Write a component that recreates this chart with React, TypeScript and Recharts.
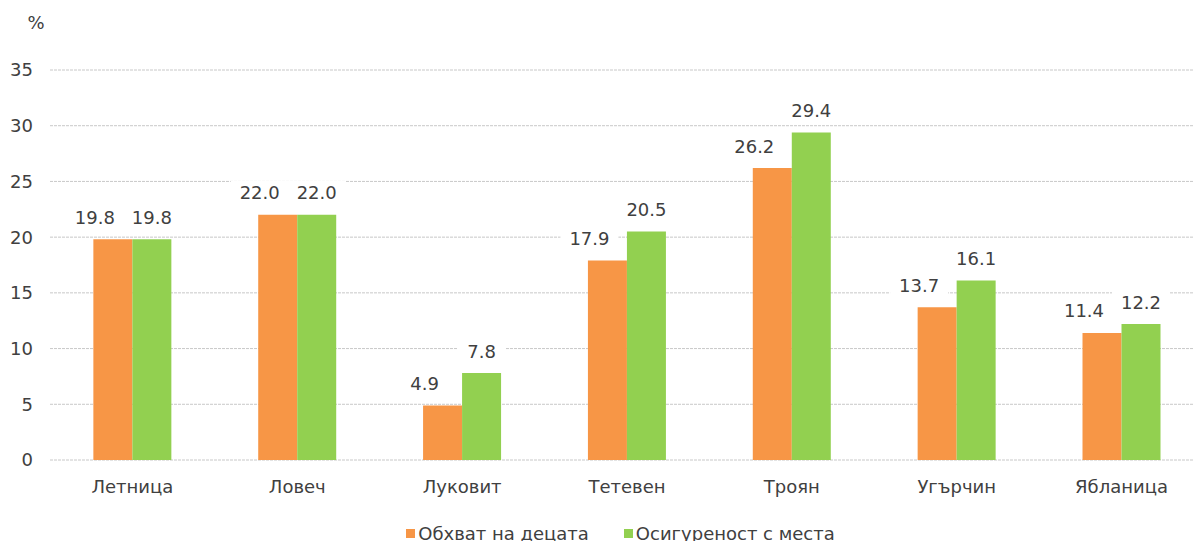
import React from 'react';
import { BarChart, Bar, XAxis, YAxis, CartesianGrid, Legend, LabelList } from 'recharts';

const categories = ['Летница', 'Ловеч', 'Луковит', 'Тетевен', 'Троян', 'Угърчин', 'Ябланица'];
const coverage = [19.8, 22.0, 4.9, 17.9, 26.2, 13.7, 11.4];
const provision = [19.8, 22.0, 7.8, 20.5, 29.4, 16.1, 12.2];
const yTicks = [0, 5, 10, 15, 20, 25, 30, 35];
const seriesNames = ['Обхват на децата', 'Осигуреност с места'];
const colors = ['#F79646', '#92D050'];

const data = categories.map((c, i) => ({ name: c, a: coverage[i], b: provision[i] }));

const FONT = '"DejaVu Sans", Verdana, sans-serif';
const TXT = '#404040';

const makeLabel = (dx: number) => (props: any) => {
  const { x, y, width, value } = props;
  const s = Number(value).toFixed(1);
  const cx = x + width / 2 + dx;
  const cy = y - 22;
  const w = s.length * 10.5;
  return (
    <g>
      <rect x={cx - w / 2 - 8} y={cy - 12} width={w + 16} height={24} fill="#ffffff" />
      <text x={cx} y={cy} textAnchor="middle" dominantBaseline="central" fontSize={18} fontFamily={FONT} fill={TXT}>
        {s}
      </text>
    </g>
  );
};

const LegendContent = () => (
  <div style={{ display: 'flex', justifyContent: 'center', fontFamily: FONT, fontSize: 18, color: TXT, height: 24, alignItems: 'center', paddingLeft: 48 }}>
    {seriesNames.map((n, i) => (
      <div key={n} style={{ display: 'flex', alignItems: 'center', marginRight: i === 0 ? 35 : 0 }}>
        <span style={{ width: 9, height: 9, background: colors[i], display: 'inline-block', marginRight: 3 }} />
        <span>{n}</span>
      </div>
    ))}
  </div>
);

export default function App() {
  return (
    <div style={{ position: 'absolute', left: 0, top: 0, width: 1193, height: 541, background: '#fff', overflow: 'hidden' }}>
      <BarChart width={1204} height={541} data={data} margin={{ top: 70, right: 0, left: 0, bottom: 0 }} barCategoryGap="26.3%" barGap={0}>
        <CartesianGrid vertical={false} stroke="#C8C8C8" strokeDasharray="3 1" />
        <XAxis dataKey="name" axisLine={false} tickLine={false} height={57} tickMargin={14}
          tick={{ fontSize: 18, fontFamily: FONT, fill: TXT }} interval={0} />
        <YAxis domain={[0, 35]} ticks={yTicks} axisLine={false} tickLine={false} width={50} tickMargin={11}
          tick={{ fontSize: 18, fontFamily: FONT, fill: TXT }}
          label={{ content: (p: any) => (
            <text x={p.viewBox.x + 36} y={p.viewBox.y - 48} textAnchor="middle" dominantBaseline="central" fontSize={18} fontFamily={FONT} fill={TXT}>%</text>
          ) }} />
        <Legend verticalAlign="bottom" content={<LegendContent />} wrapperStyle={{ top: 521, bottom: 'auto', left: 0, width: 1193, height: 24 }} />
        <Bar dataKey="a" name={seriesNames[0]} fill={colors[0]} isAnimationActive={false}>
          <LabelList dataKey="a" content={makeLabel(-18)} />
        </Bar>
        <Bar dataKey="b" name={seriesNames[1]} fill={colors[1]} isAnimationActive={false}>
          <LabelList dataKey="b" content={makeLabel(0)} />
        </Bar>
      </BarChart>
    </div>
  );
}
